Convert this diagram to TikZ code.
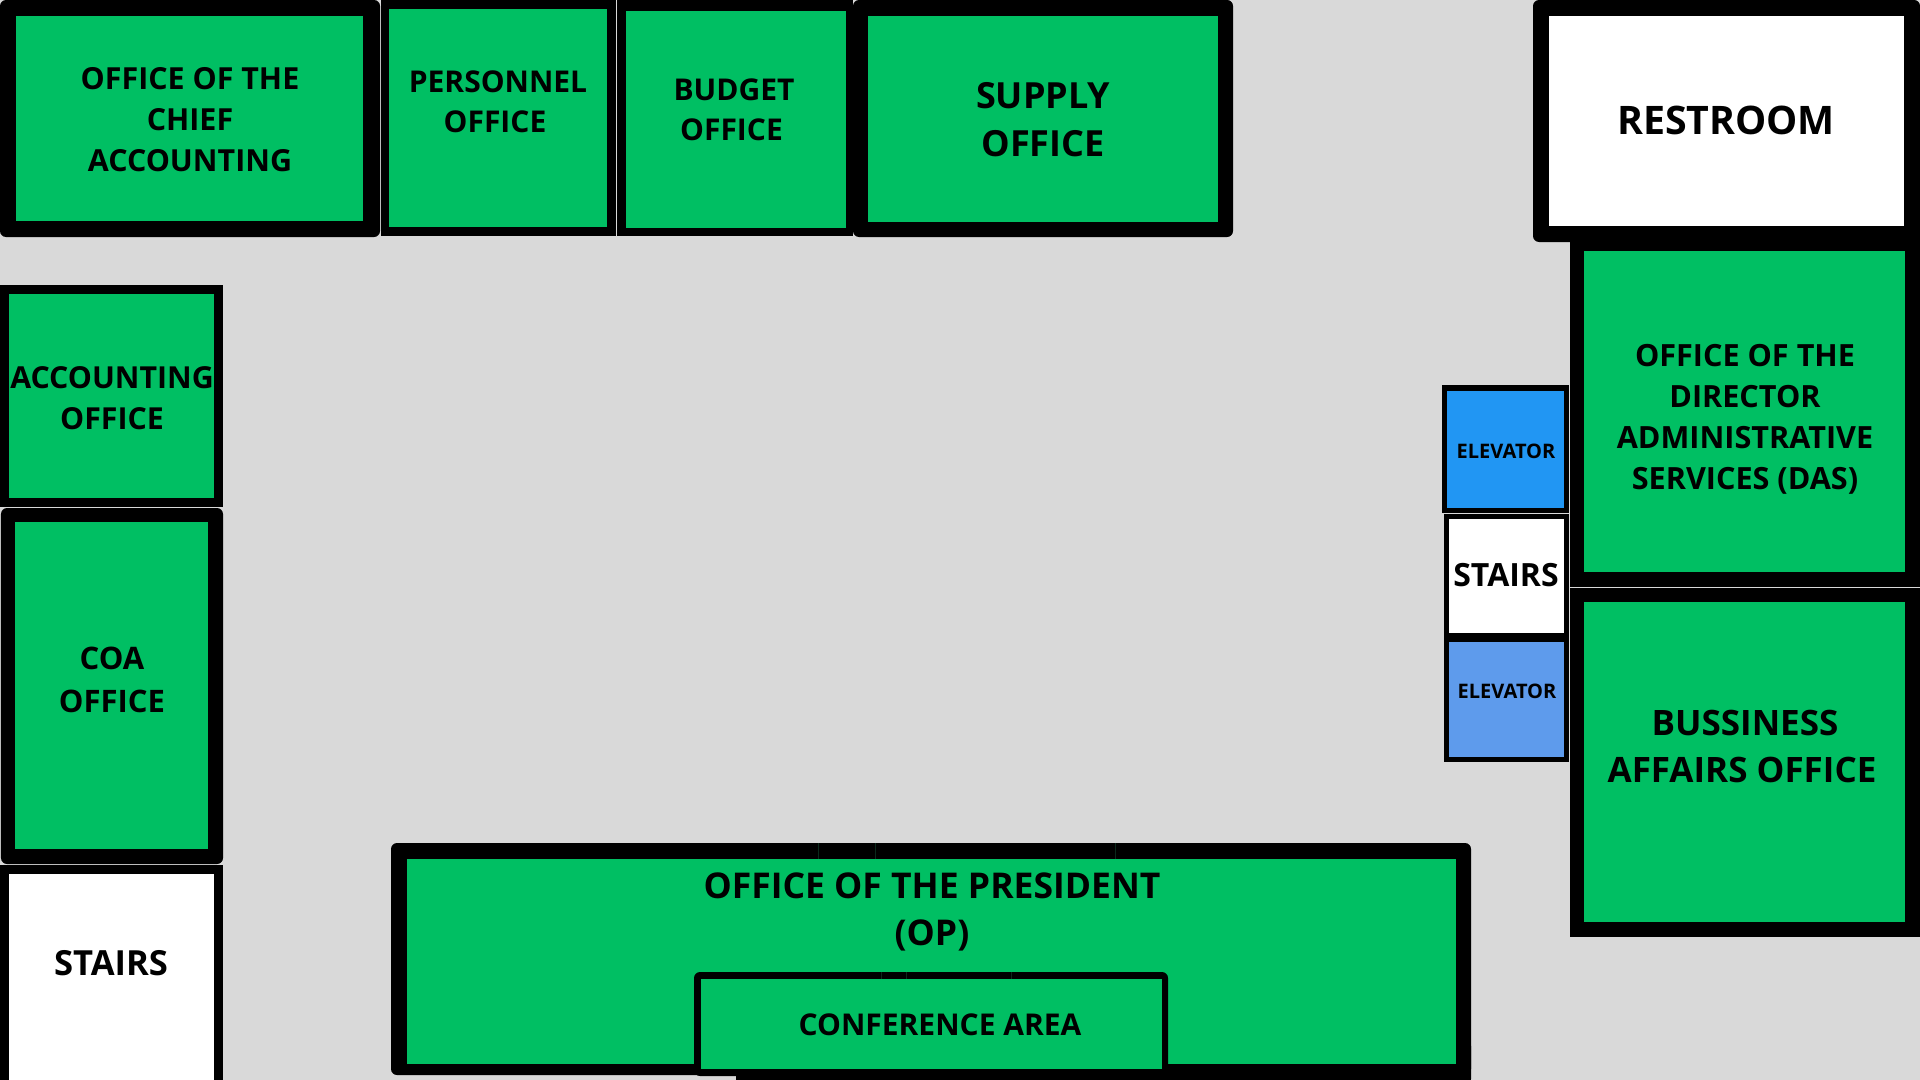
\documentclass[tikz,border=0pt]{standalone}
\usepackage{fontspec}
\setmainfont{Open Sans}
\definecolor{floorgray}{HTML}{D9D9D9}
\definecolor{roomgreen}{HTML}{00BF63}
\definecolor{liftblue}{HTML}{2196F3}
\definecolor{liftsoft}{HTML}{5E9BEC}
\definecolor{seam}{HTML}{0B2A1C}
\newdimen\pxu \pxu=1.42264pt
\newcommand{\pxfont}[2]{\fontsize{#1\pxu}{#2\pxu}\selectfont\bfseries}
\tikzset{
  wall/.style={fill=black},
  wallround/.style={fill=black,rounded corners=0.3cm},
  office/.style={fill=roomgreen},
  plain/.style={fill=white},
  label/.style={inner sep=0pt,align=center,text=black},
  seamline/.style={draw=seam,line width=0.03cm}
}
\begin{document}
\begin{tikzpicture}[x=0.05cm,y=-0.05cm]
\useasboundingbox (0,0) rectangle (1920,1080);
\fill[floorgray] (0,0) rectangle (1920,1080);
% top row
\fill[wallround] (0,0) rectangle (380,237);
\fill[office] (16,16) rectangle (363,221);
\fill[wall] (380.5,0) rectangle (616,236);
\fill[office] (389,9) rectangle (606.5,227);
\fill[wall] (617,0) rectangle (853,236);
\fill[office] (626,11) rectangle (846,228);
\fill[wallround] (853,0) rectangle (1233,237);
\fill[office] (868,16) rectangle (1218,222);
\fill[wall] (1570,230) rectangle (1920,586.5);
\fill[wallround] (1533,0) rectangle (1920,242);
\fill[plain] (1549,16) rectangle (1904,226);
% right column
\fill[office] (1584,251) rectangle (1905,572);
\fill[wall] (1570,587.5) rectangle (1920,937);
\fill[office] (1584,602) rectangle (1905,922);
\fill[wall] (1442,385) rectangle (1569,513);
\fill[liftblue] (1447,390.5) rectangle (1564,508);
\fill[wall] (1444,513.5) rectangle (1569,637);
\fill[plain] (1449,519) rectangle (1564,633);
\fill[wall] (1444,637) rectangle (1569,762);
\fill[liftsoft] (1449,642) rectangle (1564,757);
% left column
\fill[wall] (0,285) rectangle (223,507);
\fill[office] (9,294) rectangle (214,498);
\fill[wallround] (1,508) rectangle (223,864);
\fill[office] (15,522) rectangle (208,849);
\fill[wall] (0,865) rectangle (223,1080);
\fill[plain] (9,874) rectangle (214,1080);
% president and conference area
\fill[wallround] (736,1040) rectangle (1471,1085);
\fill[wallround] (391,843) rectangle (1471,1075);
\fill[office] (407,859) rectangle (1456,1064);
\fill[wallround] (694,972) rectangle (1168,1076);
\fill[office] (701,979) rectangle (1162,1069);
\draw[seamline] (818,843) -- (818,859) (875,843) -- (875,859) (1115,843) -- (1115,859);
\draw[seamline] (881,972) -- (881,979) (906,972) -- (906,979) (1011,972) -- (1011,979);
% labels
\node[label,font=\pxfont{30.4}{41}] (chief) at (190,119.5) {OFFICE OF THE\\CHIEF\\ACCOUNTING};
\node[label,font=\pxfont{30}{40}] (personnel) at (498,101.5) {PERSONNEL\\\hspace*{-6\pxu}OFFICE};
\node[label,font=\pxfont{30}{40}] (budget) at (734,109.5) {BUDGET\\\hspace*{-5\pxu}OFFICE};
\node[label,font=\pxfont{36}{48}] (supply) at (1043,120) {SUPPLY\\OFFICE};
\node[label,font=\pxfont{39.3}{46}] (restroom) at (1726,120) {RESTROOM};
\node[label,font=\pxfont{30.3}{41}] (accounting) at (112,398) {ACCOUNTING\\OFFICE};
\node[label,font=\pxfont{31}{43}] (coa) at (112,679.5) {COA\\OFFICE};
\node[label,font=\pxfont{34.6}{40}] (stairsleft) at (111,963) {STAIRS};
\node[label,font=\pxfont{30.6}{41}] (das) at (1745,419.5) {OFFICE OF THE\\DIRECTOR\\ADMINISTRATIVE\\SERVICES (DAS)};
\node[label,font=\pxfont{35}{47}] (bussiness) at (1742,746.5) {\hspace*{6\pxu}BUSSINESS\\AFFAIRS OFFICE};
\node[label,font=\pxfont{32}{40}] (stairsright) at (1506,575) {STAIRS};
\node[label,font=\pxfont{20}{24}] (liftone) at (1506,451) {ELEVATOR};
\node[label,font=\pxfont{20}{24}] (lifttwo) at (1507,691) {ELEVATOR};
\node[label,font=\pxfont{35.5}{47}] (president) at (932,911.5) {OFFICE OF THE PRESIDENT\\(OP)};
\node[label,font=\pxfont{30}{36}] (conference) at (940,1025) {CONFERENCE AREA};
\end{tikzpicture}
\end{document}
